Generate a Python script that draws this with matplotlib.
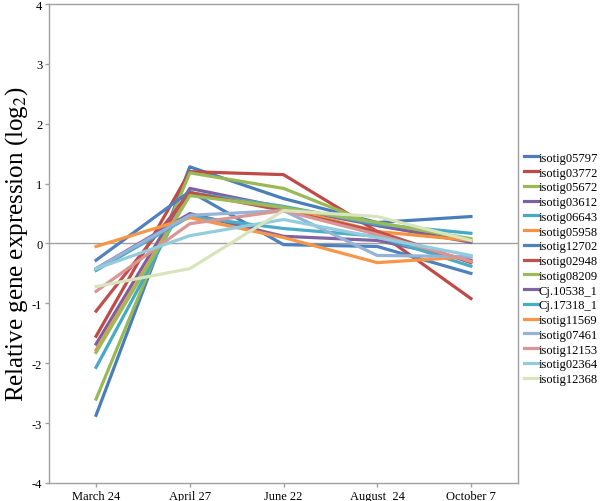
import numpy as np
import matplotlib
matplotlib.use("Agg")
import matplotlib.pyplot as plt

plt.rcParams['font.family'] = ['Liberation Serif', 'DejaVu Serif']
plt.rcParams['mathtext.fontset'] = 'stix'

dates = ["March 24", "April 27", "June 22", "August  24", "October 7"]

genes = ["isotig05797", "isotig03772", "isotig05672", "isotig03612", "isotig06643",
         "isotig05958", "isotig12702", "isotig02948", "isotig08209", "Cj.10538_1",
         "Cj.17318_1", "isotig11569", "isotig07461", "isotig12153", "isotig02364",
         "isotig12368"]

colors = ["#4A7EBB", "#BE4B48", "#98B954", "#7D60A0", "#46AAC5",
          "#F69240", "#4F81BD", "#C0504D", "#9BBB59", "#8064A2",
          "#4BACC6", "#F79646", "#95B3D7", "#D99694", "#93CDDD",
          "#D7E4BD"]

# valeurs (log2)
isotig05797 = [-2.87, 1.28, 0.75, 0.35, 0.45]
isotig03772 = [-1.55, 1.20, 1.15, 0.20, -0.92]
isotig05672 = [-2.60, 1.18, 0.92, 0.30, 0.05]
isotig03612 = [-1.68, 0.92, 0.60, 0.30, 0.02]
isotig06643 = [-2.07, 0.85, 0.62, 0.32, 0.17]
isotig05958 = [-1.78, 0.82, 0.60, 0.20, 0.05]
isotig12702 = [-0.28, 0.87, -0.02, -0.05, -0.50]
isotig02948 = [-1.13, 0.85, 0.55, 0.20, -0.32]
isotig08209 = [-1.82, 0.80, 0.60, 0.35, 0.08]
cj10538 = [-0.42, 0.50, 0.12, 0.05, -0.28]
cj17318 = [-0.45, 0.45, 0.25, 0.12, -0.38]
isotig11569 = [-0.05, 0.43, 0.10, -0.32, -0.22]
isotig07461 = [-0.42, 0.47, 0.55, -0.20, -0.22]
isotig12153 = [-0.80, 0.33, 0.55, 0.15, -0.30]
isotig02364 = [-0.42, 0.13, 0.40, 0.10, -0.20]
isotig12368 = [-0.72, -0.42, 0.55, 0.45, 0.05]

series = [isotig05797, isotig03772, isotig05672, isotig03612, isotig06643,
          isotig05958, isotig12702, isotig02948, isotig08209, cj10538,
          cj17318, isotig11569, isotig07461, isotig12153, isotig02364,
          isotig12368]

fig = plt.figure(figsize=(6, 5.02), dpi=100)
ax = fig.add_axes([0.082, 0.036, 0.781, 0.954])

x = np.arange(len(dates))
ax.axhline(0, color="#A0A0A0", linewidth=1, zorder=1)
for name, vals, c in zip(genes, series, colors):
    ax.plot(x, vals, color=c, linewidth=2.3, label=name, zorder=2)

ax.set_xlim(-0.5, 4.5)
ax.set_ylim(-4, 4)
ax.set_xticks(x)
ax.set_xticklabels(dates, fontsize=9)
ax.set_yticks(range(-4, 5))
ax.set_yticklabels([str(v) for v in range(-4, 5)], fontsize=9)
ax.tick_params(axis="both", color="#A0A0A0", length=3, width=1, pad=2)
for s in ax.spines.values():
    s.set_color("#A0A0A0")
    s.set_linewidth(1)

ax.set_ylabel("Relative gene expression (log$_{2}$)", fontsize=18, labelpad=1)

ax.legend(loc="center left", bbox_to_anchor=(1.0, 0.448), frameon=False,
          fontsize=9, handlelength=1.1, handletextpad=0.05, labelspacing=0.22,
          borderaxespad=0.3, borderpad=0.2)

fig.savefig("out.png", dpi=100)
